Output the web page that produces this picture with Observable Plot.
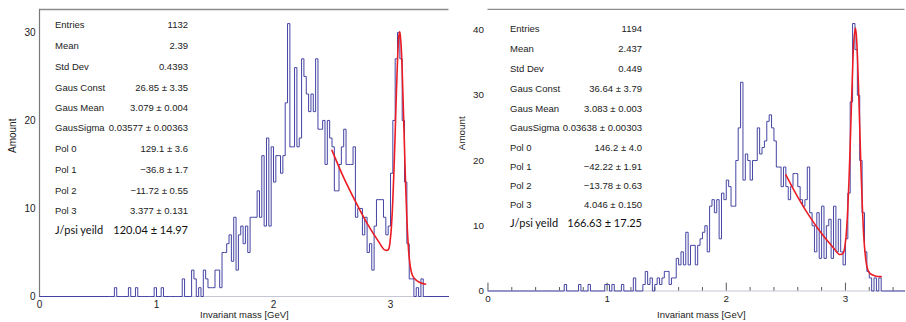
<!DOCTYPE html>
<html><head><meta charset="utf-8">
<script src="https://cdn.jsdelivr.net/npm/d3@7"></script>
<script src="https://cdn.jsdelivr.net/npm/@observablehq/plot@0.6"></script>
<style>
html,body{margin:0;padding:0;background:#fff;}
#wrap{position:relative;width:906px;height:322px;overflow:hidden;background:#fff;font-family:"Liberation Sans",Arial,Helvetica,sans-serif;}
.panel{position:absolute;top:0;}
.row{position:absolute;display:flex;justify-content:space-between;white-space:nowrap;font-size:9.5px;color:#222;line-height:12px;}
.row.yield{font-family:Lato,"Open Sans",sans-serif;font-size:11px;color:#111;}
.xtitle{position:absolute;font-size:9.5px;color:#222;white-space:nowrap;line-height:10px;}
</style></head><body><div id="wrap"></div>
<script>
// ---- data ----
const binStart = 0.60;   // GeV, first listed bin
const binWidth = 0.02;   // GeV
// counts per 0.02 GeV bin, 0.60 ... 3.30 GeV
const leftCounts = [
  0,0,1,0,0,0,0,0,1,0,
  0,1,0,0,0,0,0,0,0,1,
  0,0,1,0,0,0,0,0,0,0,
  0,2,0,0,0,3,2,0,1,0,
  3,2,1,1,1,3,3,1,5,5,
  6,7,4,9,3,7,8,6,8,5,
  9,9,9,12,9,16,8,18,8,17,
  13,16,16,14,16,22,31,17,17,26,
  17,18,27,25,23,21,23,21,27,19,
  19,20,15,20,18,17,12,12,15,17,
  19,15,15,15,17,9,10,10,7,9,
  5,6,3,8,11,11,11,9,7,8,
  14,20,27,30,27,20,13,6,2,2,
  0,1,0,2,0,0
];
const rightCounts = [
  0,0,1,0,0,0,0,0,1,0,
  0,0,1,0,0,0,0,0,0,1,
  1,0,1,0,0,0,1,0,0,0,
  0,2,0,0,0,1,3,1,2,0,
  1,2,1,2,3,3,1,2,2,5,
  4,6,4,9,4,7,7,4,7,8,
  9,10,6,13,14,12,14,8,15,14,
  17,16,13,13,20,25,32,17,21,20,
  17,20,20,25,21,22,23,26,27,25,
  23,19,19,16,19,16,14,16,18,18,
  16,14,13,14,19,12,10,6,12,5,
  13,5,10,11,5,13,6,11,6,4,
  8,15,29,41,37,30,20,12,6,3,
  2,0,2,0,2,0
];
// fitted curve
const leftFitMass   = [2.50,2.60,2.70,2.80,2.90,2.95,2.98,3.00,3.01,3.02,3.03,3.04,3.05,3.06,3.07,3.079,3.09,3.10,3.11,3.12,3.13,3.14,3.15,3.16,3.18,3.20,3.25,3.30];
const leftFitAmount = [16.6,13.5,10.8,8.3,6.2,5.3,5.3,6.7,8.4,11.0,14.5,18.6,23.0,26.8,29.4,30.1,28.7,25.6,21.3,16.7,12.4,8.8,6.2,4.4,2.7,2.1,1.6,1.4];
const rightFitMass   = [2.50,2.60,2.70,2.80,2.90,2.95,2.98,3.00,3.01,3.02,3.03,3.04,3.05,3.06,3.07,3.083,3.09,3.10,3.11,3.12,3.13,3.14,3.15,3.16,3.18,3.20,3.25,3.30];
const rightFitAmount = [17.8,14.4,11.4,8.8,6.6,5.6,5.8,7.5,9.5,12.7,17.0,22.4,28.3,33.9,38.2,40.3,39.5,36.3,31.1,25.1,19.0,13.8,9.7,6.8,3.8,2.8,2.3,2.2];
// axes
const xTicks = [0,1,2,3];
const leftYTicks = [0,10,20,30];
const rightYTicks = [0,10,20,30,40];
const rightMajorTicks = [0,1,2,3];
const rightMinorTicks = [0.2,0.4,0.6,0.8,1.2,1.4,1.6,1.8,2.2,2.4,2.6,2.8,3.2,3.4];
const xTitle = "Invariant mass [GeV]";
const yTitle = "Amount";
// stats boxes
const statLabels = ["Entries","Mean","Std Dev","Gaus Const","Gaus Mean","GausSigma","Pol 0","Pol 1","Pol 2","Pol 3","J/psi yeild"];
const leftStats  = ["1132","2.39","0.4393","26.85 ± 3.35","3.079 ± 0.004","0.03577 ± 0.00363","129.1 ± 3.6","−36.8 ± 1.7","−11.72 ± 0.55","3.377 ± 0.131","120.04 ± 14.97"];
const rightStats = ["1194","2.437","0.449","36.64 ± 3.79","3.083 ± 0.003","0.03638 ± 0.00303","146.2 ± 4.0","−42.22 ± 1.91","−13.78 ± 0.63","4.046 ± 0.150","166.63 ± 17.25"];

// ---- build ----
function histPoints(counts){
  const pts = [{x:0, y:0}];
  counts.forEach((c,i)=>pts.push({x:+(binStart + i*binWidth).toFixed(2), y:c}));
  pts.push({x:+(binStart + counts.length*binWidth).toFixed(2), y:0});
  pts.push({x:3.5, y:0});
  return pts;
}
const HIST = "#4343a3", FIT = "#ec1c24";

function panel(o){
  const frameH = 322 - o.mTop - o.mBottom;
  const fit = o.fitX.map((x,i)=>({x, y:o.fitY[i]}));
  const marks = [
    Plot.ruleY([0], {stroke:"#c6c6d6"}),
    Plot.ruleY([o.yMax], {stroke:"#8c8c8c", strokeWidth:1.3}),
  ];
  if (o.leftAxis) marks.push(Plot.ruleX([0], {stroke:"#7a7a7a", strokeWidth:1.2}));
  if (o.major) {
    marks.push(Plot.ruleX(o.major, {stroke:"#555", insetTop: frameH - 8}));
    marks.push(Plot.ruleX(o.minor, {stroke:"#555", insetTop: frameH - 3.5}));
  }
  marks.push(
    Plot.line(histPoints(o.counts), {x:"x", y:"y", curve:"step-after", stroke:HIST, strokeWidth:1}),
    Plot.line(fit, {x:"x", y:"y", curve:"catmull-rom", stroke:FIT, strokeWidth:1.6}),
    Plot.text([yTitle], {frameAnchor:"left", dx:-27, rotate:-90, fontSize:10, fill:"#222"})
  );
  return Plot.plot({
    width:o.width, height:322,
    marginLeft:o.mLeft, marginRight:o.mRight, marginTop:o.mTop, marginBottom:o.mBottom,
    style:{fontFamily:'"Liberation Sans",Arial,Helvetica,sans-serif', fontSize:"10px", color:"#222", background:"transparent", overflow:"visible"},
    x:{domain:[0,3.5], ticks:xTicks, tickFormat:d=>String(d), tickSize:0, tickPadding:4, label:null},
    y:{domain:[0,o.yMax], ticks:o.yTicks, tickFormat:d=>String(d), tickSize:0, tickPadding:o.yPad, label:null},
    marks
  });
}

const wrap = document.getElementById("wrap");
function place(svg, left){
  const d = document.createElement("div");
  d.className = "panel"; d.style.left = left + "px";
  d.appendChild(svg); wrap.appendChild(d);
}
place(panel({counts:leftCounts, fitX:leftFitMass, fitY:leftFitAmount, yMax:32.6, yTicks:leftYTicks,
  width:453, mLeft:39, mRight:4.5, mTop:9, mBottom:26, yPad:4, leftAxis:true}), 0);
place(panel({counts:rightCounts, fitX:rightFitMass, fitY:rightFitAmount, yMax:43.17, yTicks:rightYTicks,
  width:460, mLeft:35, mRight:1.5, mTop:9, mBottom:27, yPad:4, leftAxis:false,
  major:rightMajorTicks, minor:rightMinorTicks}), 453);

function stats(values, left, width, ys){
  statLabels.forEach((lab,i)=>{
    const r = document.createElement("div");
    r.className = "row" + (i === statLabels.length-1 ? " yield" : "");
    r.style.left = left + "px"; r.style.width = width + "px";
    r.style.top = (ys[i] - 6) + "px";
    const a = document.createElement("span"); a.textContent = lab;
    const b = document.createElement("span"); b.textContent = values[i];
    r.appendChild(a); r.appendChild(b); wrap.appendChild(r);
  });
}
stats(leftStats, 55, 133, [25,45.5,66.5,87.5,108,128,149,170,191,211,230]);
stats(rightStats, 510, 132, [29,49,69,88.5,108.5,128,148,167,186,205,223]);

function xt(left){
  const t = document.createElement("div");
  t.className = "xtitle"; t.textContent = xTitle;
  t.style.left = left + "px"; t.style.top = "310px";
  wrap.appendChild(t);
}
xt(200); xt(657);
</script></body></html>
